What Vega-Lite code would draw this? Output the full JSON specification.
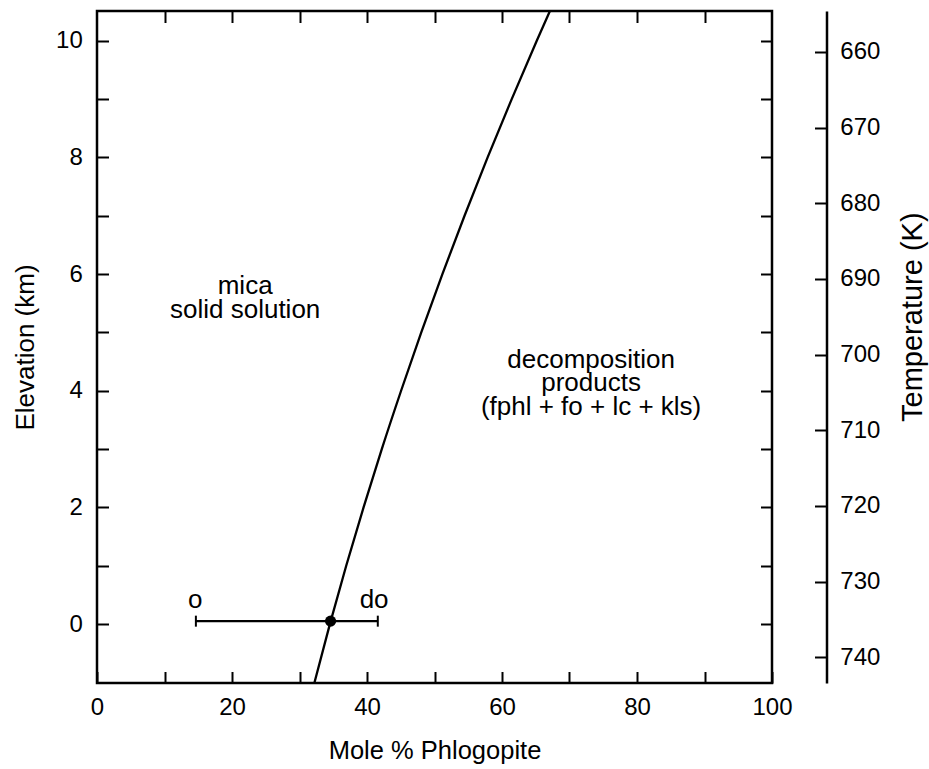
{
  "$schema": "https://vega.github.io/schema/vega-lite/v6.json",
  "width": 675,
  "height": 672,
  "autosize": "none",
  "padding": {"left": 97, "top": 11, "right": 157, "bottom": 86},
  "background": "white",
  "config": {
    "view": {"stroke": "black", "strokeWidth": 2.5},
    "font": "Liberation Sans",
    "axis": {
      "labelFont": "Liberation Sans",
      "titleFont": "Liberation Sans",
      "labelFontSize": 24,
      "titleFontSize": 25.5,
      "labelColor": "black",
      "titleColor": "black",
      "titleFontWeight": "normal",
      "tickColor": "black",
      "domainColor": "black",
      "tickWidth": 2,
      "grid": false,
      "labelFlush": false,
      "labelOverlap": false,
      "labelBound": false
    }
  },
  "resolve": {"scale": {"x": "independent", "y": "independent"}},
  "layer": [
    {
      "layer": [
        {
          "data": {"values": [
            {"phl": 32.2, "elev": -1.01},
            {"phl": 34.5, "elev": 0},
            {"phl": 36.92, "elev": 1},
            {"phl": 39.49, "elev": 2},
            {"phl": 42.19, "elev": 3},
            {"phl": 45.05, "elev": 4},
            {"phl": 48.04, "elev": 5},
            {"phl": 51.17, "elev": 6},
            {"phl": 54.45, "elev": 7},
            {"phl": 57.87, "elev": 8},
            {"phl": 61.44, "elev": 9},
            {"phl": 65.15, "elev": 10},
            {"phl": 67.1, "elev": 10.51}
          ]},
          "mark": {"type": "line", "color": "black", "strokeWidth": 2.3, "interpolate": "monotone", "clip": true},
          "encoding": {
            "x": {
              "field": "phl", "type": "quantitative",
              "scale": {"domain": [0, 100], "nice": false, "zero": false},
              "axis": {
                "orient": "bottom",
                "values": [0, 10, 20, 30, 40, 50, 60, 70, 80, 90, 100],
                "format": "d",
                "labelExpr": "datum.value % 20 === 0 ? datum.label : ''",
                "tickSize": -11.5,
                "domain": false,
                "labelBaseline": "alphabetic",
                "labelPadding": 43.2,
                "title": "Mole % Phlogopite",
                "titleBaseline": "alphabetic",
                "titleY": 75
              }
            },
            "y": {
              "field": "elev", "type": "quantitative",
              "scale": {"domain": [-1.01, 10.51], "nice": false, "zero": false},
              "axis": {
                "orient": "left",
                "values": [0, 1, 2, 3, 4, 5, 6, 7, 8, 9, 10],
                "format": "d",
                "labelExpr": "datum.value % 2 === 0 ? datum.label : ''",
                "tickSize": -11.5,
                "domain": false,
                "labelPadding": 26.2,
                "title": "Elevation (km)",
                "titleFontSize": 26,
                "titleAngle": 270,
                "titleBaseline": "alphabetic",
                "titleAlign": "center",
                "titleX": -63.4,
                "titleY": 336
              }
            },
            "order": {"field": "elev", "type": "quantitative"}
          }
        },
        {
          "data": {"values": [{"lo": 14.65, "hi": 41.6, "elev": 0.05}]},
          "mark": {"type": "rule", "color": "black", "strokeWidth": 2.2},
          "encoding": {
            "x": {"field": "lo", "type": "quantitative"},
            "x2": {"field": "hi"},
            "y": {"field": "elev", "type": "quantitative"}
          }
        },
        {
          "data": {"values": [{"phl": 14.65, "elev": 0.05}, {"phl": 41.6, "elev": 0.05}]},
          "mark": {"type": "tick", "orient": "vertical", "color": "black", "size": 11, "thickness": 2, "opacity": 1},
          "encoding": {
            "x": {"field": "phl", "type": "quantitative"},
            "y": {"field": "elev", "type": "quantitative"}
          }
        },
        {
          "data": {"values": [{"phl": 34.6, "elev": 0.05}]},
          "mark": {"type": "point", "filled": true, "color": "black", "size": 125, "opacity": 1},
          "encoding": {
            "x": {"field": "phl", "type": "quantitative"},
            "y": {"field": "elev", "type": "quantitative"}
          }
        },
        {
          "data": {"values": [
            {"phl": 21.95, "elev": 5.66, "label": "mica"},
            {"phl": 21.95, "elev": 5.25, "label": "solid solution"},
            {"phl": 73.2, "elev": 4.39, "label": "decomposition"},
            {"phl": 73.2, "elev": 3.99, "label": "products"},
            {"phl": 73.2, "elev": 3.59, "label": "(fphl + fo + lc + kls)"},
            {"phl": 14.55, "elev": 0.28, "label": "o"},
            {"phl": 41.05, "elev": 0.28, "label": "do"}
          ]},
          "mark": {"type": "text", "align": "center", "baseline": "alphabetic", "fontSize": 26, "color": "black", "font": "Liberation Sans"},
          "encoding": {
            "x": {"field": "phl", "type": "quantitative"},
            "y": {"field": "elev", "type": "quantitative"},
            "text": {"field": "label"}
          }
        }
      ]
    },
    {
      "data": {"values": [{"a": 50, "b": 5}]},
      "mark": {"type": "point", "opacity": 0},
      "encoding": {
        "x": {
          "field": "a", "type": "quantitative",
          "scale": {"domain": [0, 100], "nice": false, "zero": false},
          "axis": {"orient": "top", "values": [10, 20, 30, 40, 50, 60, 70, 80, 90], "labels": false, "domain": false, "tickSize": -11.5, "title": null}
        },
        "y": {
          "field": "b", "type": "quantitative",
          "scale": {"domain": [-1.01, 10.51], "nice": false, "zero": false},
          "axis": {"orient": "right", "values": [0, 1, 2, 3, 4, 5, 6, 7, 8, 9, 10], "labels": false, "domain": false, "tickSize": -11.5, "title": null}
        }
      }
    },
    {
      "data": {"values": [{"t": 700}]},
      "mark": {"type": "point", "opacity": 0},
      "encoding": {
        "y": {
          "field": "t", "type": "quantitative",
          "scale": {"domain": [654.6, 743.4], "reverse": true, "nice": false, "zero": false},
          "axis": {
            "orient": "right",
            "offset": 54.5,
            "values": [660, 670, 680, 690, 700, 710, 720, 730, 740],
            "format": "d",
            "tickSize": -12,
            "domain": true,
            "domainWidth": 2.5,
            "labelPadding": 25.3,
            "title": "Temperature (K)",
            "titleFontSize": 29,
            "titleAngle": 270,
            "titleBaseline": "alphabetic",
            "titleAlign": "center",
            "titleX": 95,
            "titleY": 305.7
          }
        }
      }
    }
  ]
}
